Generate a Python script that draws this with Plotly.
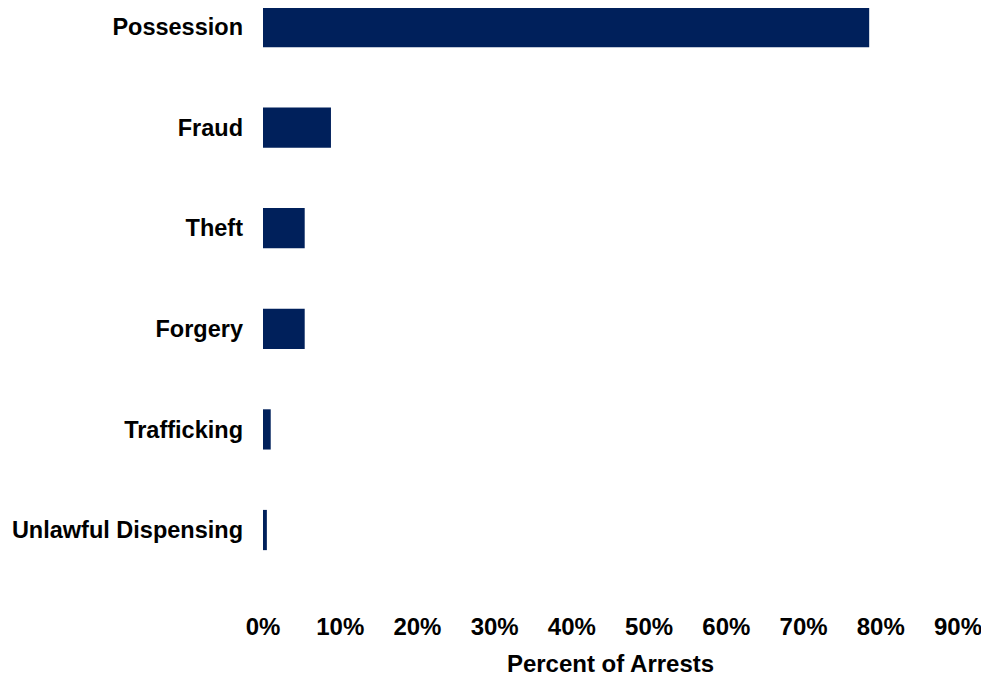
import plotly.graph_objects as go

categories = ["Possession", "Fraud", "Theft", "Forgery", "Trafficking", "Unlawful Dispensing"]
percent_of_arrests = [78.5, 8.8, 5.4, 5.4, 1.0, 0.5]
tick_values = [0, 10, 20, 30, 40, 50, 60, 70, 80, 90]
tick_labels = ["0%", "10%", "20%", "30%", "40%", "50%", "60%", "70%", "80%", "90%"]

FONT = "Liberation Sans, Arial, sans-serif"

fig = go.Figure(
    go.Bar(
        x=percent_of_arrests,
        y=categories,
        orientation="h",
        marker=dict(color="#00205B", line=dict(width=0)),
        hoverinfo="x+y",
    )
)

# page has an 8px body margin, so the figure is sized 16px smaller
fig.update_layout(
    width=981,
    height=669,
    margin=dict(l=255, r=31, t=0, b=67),
    paper_bgcolor="white",
    plot_bgcolor="white",
    bargap=0.6,
    showlegend=False,
    font=dict(family=FONT, color="black"),
)

fig.update_xaxes(
    range=[0, 90],
    tickvals=tick_values,
    ticktext=tick_labels,
    tickfont=dict(family=FONT, size=24, color="black", weight="bold"),
    showgrid=False,
    zeroline=False,
    showline=False,
    ticks="",
    title=dict(text="<b>Percent of Arrests</b>", font=dict(family=FONT, size=24, color="black"), standoff=18),
)

fig.update_yaxes(
    type="category",
    range=[5.795, -0.189],
    autorange=False,
    tickfont=dict(family=FONT, size=23.5, color="black", weight="bold"),
    showgrid=False,
    zeroline=False,
    showline=False,
    ticks="",
    ticklabelstandoff=19,
)

fig.write_html("out.html")
